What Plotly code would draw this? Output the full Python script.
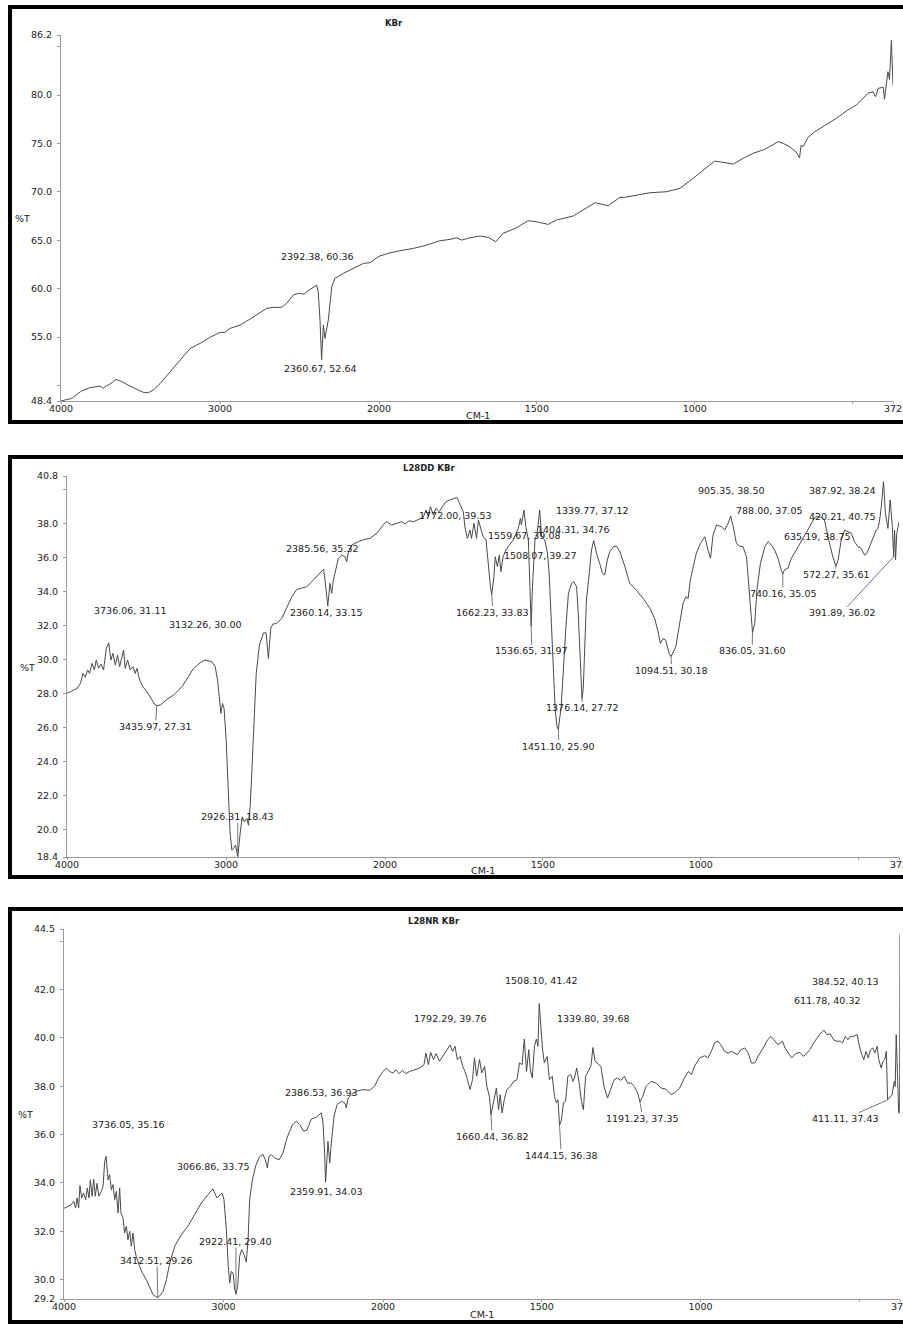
import plotly.graph_objects as go

# ---------------- data ----------------
KBR = [(4000, 48.4), (3933, 48.67), (3870, 49.45), (3818, 49.77), (3755, 49.94), (3734, 49.7), (3717, 49.94),
       (3692, 50.15), (3654, 50.63), (3618, 50.4), (3566, 49.94), (3524, 49.6), (3482, 49.29), (3451, 49.25),
       (3419, 49.53), (3377, 50.2), (3314, 51.4), (3252, 52.6), (3189, 53.8), (3126, 54.35), (3063, 54.97),
       (3000, 55.49), (2969, 55.49), (2937, 55.9), (2874, 56.24), (2811, 56.86), (2759, 57.45), (2706, 57.97),
       (2665, 58.07), (2612, 58.07), (2581, 58.48), (2539, 59.34), (2508, 59.52), (2472, 59.44), (2434, 59.92),
       (2392, 60.36), (2382, 59.68), (2371, 56.76), (2361, 52.64), (2350, 56.24), (2340, 54.87), (2319, 56.76),
       (2297, 60.2), (2277, 61.07), (2224, 61.58), (2161, 62.1), (2098, 62.61), (2057, 62.68), (2004, 63.3),
       (2000, 63.35), (1971, 63.65), (1934, 63.92), (1891, 64.16), (1849, 64.5), (1807, 64.95), (1775, 65.09),
       (1754, 65.26), (1738, 65.02), (1712, 65.26), (1680, 65.44), (1654, 65.3), (1630, 64.85), (1607, 65.71),
       (1564, 66.3), (1528, 67.02), (1501, 66.91), (1464, 66.64), (1438, 67.09), (1385, 67.5), (1354, 68.12),
       (1316, 68.88), (1274, 68.57), (1237, 69.43), (1222, 69.43), (1185, 69.67), (1142, 69.91), (1090, 70.01),
       (1047, 70.36), (1005, 71.4), (974, 72.25), (937, 73.18), (910, 73.05), (878, 72.87), (847, 73.46),
       (815, 73.98), (778, 74.39), (736, 75.18), (720, 75.01), (699, 74.66), (678, 74.08), (668, 73.53),
       (663, 74.84), (657, 74.66), (641, 75.63), (620, 76.21), (594, 76.73), (551, 77.6), (515, 78.45),
       (488, 78.97), (451, 80.18), (435, 80.34), (427, 79.83), (419, 80.69), (403, 80.8), (399, 79.56),
       (388, 82.41), (383, 81.62), (377, 85.68), (372, 81.0)]

L28DD = [(4000, 28.02), (3969, 28.17), (3937, 28.31), (3916, 28.6), (3899, 29.19), (3885, 28.96), (3870, 29.4),
         (3858, 29.2), (3843, 29.78), (3828, 29.4), (3816, 29.98), (3801, 29.49), (3786, 29.74), (3770, 29.4),
         (3753, 30.66), (3738, 31.0), (3724, 29.98), (3711, 30.37), (3696, 29.68), (3682, 30.27), (3669, 29.59),
         (3654, 30.17), (3644, 30.57), (3634, 29.49), (3619, 29.98), (3602, 29.4), (3585, 29.59), (3571, 29.19),
         (3560, 29.49), (3543, 28.8), (3523, 28.41), (3497, 28.11), (3466, 27.62), (3445, 27.33), (3436, 27.31),
         (3414, 27.33), (3372, 27.66), (3330, 27.92), (3277, 28.41), (3246, 28.9), (3204, 29.49), (3162, 29.82),
         (3131, 29.98), (3089, 29.88), (3068, 29.59), (3053, 28.8), (3041, 27.43), (3032, 26.84), (3022, 27.43),
         (3012, 27.13), (2999, 25.27), (2984, 22.33), (2974, 19.78), (2963, 18.8), (2953, 18.9), (2940, 19.1),
         (2932, 18.8), (2926, 18.43), (2911, 19.78), (2898, 20.76), (2884, 20.47), (2869, 20.66), (2859, 20.27),
         (2848, 21.35), (2838, 23.31), (2827, 26.05), (2810, 29.19), (2790, 30.86), (2764, 31.58), (2748, 31.58),
         (2733, 30.07), (2727, 30.86), (2718, 31.84), (2706, 32.09), (2681, 32.13), (2649, 32.43), (2618, 33.11),
         (2586, 33.7), (2555, 34.13), (2524, 34.23), (2492, 34.29), (2461, 34.58), (2429, 34.88), (2398, 35.17),
         (2386, 35.32), (2377, 34.68), (2366, 33.7), (2360, 33.15), (2346, 34.49), (2335, 33.9), (2325, 34.68),
         (2308, 35.47), (2293, 35.96), (2272, 36.15), (2251, 36.05), (2241, 35.76), (2230, 36.35), (2209, 36.74),
         (2168, 36.94), (2126, 37.08), (2094, 37.13), (2052, 37.43), (2021, 37.78), (2000, 38.05), (1995, 38.11),
         (1979, 37.92), (1963, 38.02), (1947, 38.11), (1937, 37.98), (1923, 38.17), (1910, 38.11), (1895, 38.25),
         (1879, 38.37), (1870, 38.8), (1863, 38.41), (1856, 39.0), (1847, 38.51), (1839, 38.9), (1828, 38.7),
         (1818, 39.0), (1807, 39.29), (1794, 39.4), (1772, 39.53), (1752, 38.7), (1747, 37.82), (1739, 37.13),
         (1731, 37.62), (1726, 37.13), (1718, 38.02), (1710, 37.13), (1704, 38.21), (1694, 37.53), (1689, 37.23),
         (1680, 37.04), (1673, 35.47), (1666, 34.29), (1662, 33.83), (1655, 34.88), (1651, 36.05), (1644, 35.47),
         (1638, 36.15), (1633, 35.17), (1626, 36.05), (1617, 36.45), (1610, 36.64), (1594, 37.04), (1578, 37.72),
         (1571, 38.31), (1568, 37.92), (1560, 38.8), (1554, 37.82), (1546, 37.04), (1541, 34.29), (1537, 31.97),
         (1533, 34.29), (1525, 37.04), (1518, 37.43), (1510, 38.8), (1504, 37.23), (1494, 37.04), (1486, 36.35),
         (1480, 35.07), (1473, 32.13), (1467, 29.19), (1461, 27.04), (1455, 26.05), (1451, 25.9), (1442, 27.23),
         (1436, 29.19), (1427, 31.94), (1419, 33.9), (1409, 34.49), (1402, 34.58), (1393, 34.29), (1388, 32.72),
         (1383, 30.17), (1378, 27.9), (1376, 27.72), (1372, 28.3), (1367, 30.76), (1362, 33.51), (1353, 35.07),
         (1346, 36.45), (1339, 37.0), (1330, 36.25), (1320, 35.66), (1311, 35.07), (1304, 34.98), (1296, 35.86),
         (1288, 36.35), (1277, 36.64), (1267, 36.68), (1256, 36.35), (1240, 35.47), (1225, 34.49), (1204, 34.09),
         (1182, 33.6), (1161, 33.02), (1146, 32.43), (1135, 31.64), (1128, 30.96), (1119, 31.25), (1111, 31.15),
         (1100, 30.37), (1094, 30.18), (1079, 30.76), (1066, 32.23), (1056, 33.31), (1047, 33.7), (1040, 33.6),
         (1033, 34.68), (1024, 35.47), (1014, 36.25), (1001, 36.84), (987, 37.23), (977, 36.45), (969, 35.96),
         (961, 37.33), (950, 37.92), (935, 37.82), (924, 37.62), (913, 38.02), (905, 38.45), (896, 37.72),
         (887, 36.84), (877, 36.68), (866, 36.64), (855, 36.05), (845, 33.51), (840, 32.13), (836, 31.6),
         (829, 32.13), (822, 34.09), (811, 35.66), (797, 36.64), (787, 36.94), (776, 36.74), (766, 36.45),
         (755, 35.96), (745, 35.27), (740, 35.05), (734, 35.3), (724, 35.37), (713, 35.96), (697, 36.45),
         (676, 37.13), (655, 37.82), (644, 38.21), (634, 38.41), (618, 38.37), (608, 38.21), (597, 37.23),
         (583, 36.15), (572, 35.5), (565, 35.86), (555, 37.04), (544, 37.62), (534, 37.53), (523, 37.43),
         (513, 36.94), (502, 36.64), (492, 36.55), (481, 36.15), (474, 36.25), (465, 36.64), (457, 37.04),
         (449, 37.33), (444, 37.62), (439, 37.72), (434, 38.11), (428, 39.0), (421, 40.47), (415, 38.6),
         (407, 37.72), (400, 39.39), (393, 37.82), (389, 36.05), (386, 37.62), (383, 35.86), (379, 37.43),
         (372, 38.1)]

L28NR = [(4000, 32.95), (3975, 33.03), (3954, 33.1), (3939, 33.24), (3927, 32.96), (3918, 33.38), (3908, 32.96),
         (3900, 33.89), (3889, 33.38), (3877, 33.58), (3864, 33.31), (3854, 33.79), (3843, 33.38), (3835, 34.13),
         (3824, 33.45), (3814, 34.16), (3804, 33.45), (3793, 33.98), (3781, 33.45), (3766, 33.65), (3755, 33.86),
         (3745, 34.89), (3736, 35.1), (3724, 34.13), (3714, 34.34), (3703, 33.72), (3693, 33.93), (3682, 33.31),
         (3672, 33.65), (3661, 32.76), (3651, 33.79), (3643, 32.76), (3630, 32.55), (3620, 31.93), (3609, 32.21),
         (3599, 31.65), (3588, 32.0), (3578, 31.38), (3567, 31.93), (3557, 31.24), (3547, 30.96), (3526, 30.55),
         (3509, 30.28), (3484, 30.0), (3463, 29.66), (3442, 29.38), (3425, 29.3), (3412, 29.26), (3404, 29.3),
         (3379, 29.52), (3358, 30.0), (3337, 30.69), (3306, 31.38), (3264, 31.86), (3223, 32.21), (3181, 32.69),
         (3139, 33.17), (3097, 33.51), (3067, 33.75), (3041, 33.38), (3024, 33.51), (3009, 33.58), (2997, 33.31),
         (2982, 32.07), (2970, 30.55), (2961, 29.86), (2951, 30.34), (2940, 30.28), (2930, 29.59), (2922, 29.4),
         (2911, 29.72), (2899, 30.96), (2886, 31.24), (2871, 31.03), (2857, 30.72), (2846, 31.65), (2836, 33.31),
         (2819, 34.13), (2798, 34.71), (2773, 35.1), (2752, 35.17), (2738, 34.96), (2725, 34.62), (2715, 35.1),
         (2700, 35.17), (2679, 35.03), (2652, 34.96), (2627, 35.24), (2602, 35.86), (2568, 36.41), (2543, 36.55),
         (2522, 36.41), (2497, 36.13), (2476, 36.2), (2449, 36.64), (2418, 36.72), (2387, 36.9), (2376, 36.48),
         (2366, 35.24), (2360, 34.03), (2345, 35.72), (2334, 34.82), (2324, 35.65), (2307, 36.75), (2288, 37.24),
         (2261, 37.37), (2240, 37.31), (2230, 37.1), (2219, 37.51), (2198, 37.65), (2167, 37.79), (2126, 37.86),
         (2084, 37.83), (2053, 38.0), (2022, 38.41), (2000, 38.61), (1989, 38.75), (1979, 38.61), (1968, 38.54),
         (1960, 38.68), (1949, 38.52), (1939, 38.66), (1928, 38.52), (1916, 38.61), (1900, 38.68), (1884, 38.75),
         (1871, 38.89), (1865, 39.37), (1857, 38.89), (1850, 39.4), (1841, 39.1), (1833, 39.35), (1822, 39.03),
         (1812, 39.23), (1799, 39.51), (1789, 39.7), (1781, 39.44), (1773, 39.65), (1766, 39.1), (1757, 39.23),
         (1749, 38.82), (1742, 38.61), (1734, 38.27), (1726, 37.86), (1718, 38.27), (1712, 39.17), (1705, 38.41),
         (1696, 39.1), (1689, 38.55), (1680, 38.82), (1673, 37.99), (1665, 37.58), (1660, 36.82), (1650, 37.44),
         (1643, 37.92), (1636, 37.03), (1631, 37.65), (1625, 36.89), (1618, 37.44), (1610, 37.86), (1599, 37.99),
         (1589, 38.2), (1578, 38.27), (1570, 38.96), (1562, 38.89), (1555, 39.95), (1548, 38.61), (1541, 39.51),
         (1536, 38.68), (1530, 38.34), (1523, 39.65), (1517, 39.95), (1512, 39.65), (1508, 41.42), (1498, 39.58),
         (1492, 38.96), (1483, 39.23), (1476, 38.27), (1467, 38.41), (1460, 37.58), (1454, 37.31), (1449, 37.44),
         (1444, 36.38), (1438, 36.6), (1432, 37.31), (1425, 37.37), (1418, 38.41), (1409, 38.48), (1402, 38.2),
         (1397, 38.34), (1390, 38.75), (1383, 38.2), (1375, 37.37), (1369, 37.03), (1362, 38.41), (1354, 38.61),
         (1345, 38.85), (1339, 39.6), (1332, 39.03), (1314, 38.82), (1304, 37.99), (1293, 37.51), (1283, 37.86),
         (1272, 38.27), (1262, 38.34), (1251, 38.24), (1240, 38.41), (1230, 38.13), (1219, 38.13), (1209, 37.99),
         (1198, 37.72), (1191, 37.35), (1182, 37.58), (1172, 37.99), (1156, 38.2), (1140, 38.13), (1124, 37.92),
         (1109, 37.88), (1093, 37.65), (1082, 37.72), (1066, 37.92), (1051, 38.34), (1038, 38.61), (1029, 38.48),
         (1019, 38.82), (1003, 39.17), (987, 39.26), (977, 39.17), (966, 39.44), (956, 39.79), (945, 39.86),
         (937, 39.72), (924, 39.44), (913, 39.37), (903, 39.44), (894, 39.37), (884, 39.3), (873, 39.51),
         (861, 39.58), (850, 39.37), (840, 38.96), (829, 38.96), (819, 39.23), (803, 39.58), (789, 39.92),
         (778, 40.06), (768, 39.92), (757, 39.72), (750, 39.77), (742, 39.86), (734, 39.58), (721, 39.3),
         (713, 39.17), (700, 39.35), (687, 39.4), (676, 39.23), (666, 39.37), (655, 39.51), (644, 39.79),
         (634, 39.99), (623, 40.17), (612, 40.32), (602, 40.13), (592, 40.17), (581, 39.92), (571, 39.86),
         (560, 39.86), (553, 39.79), (544, 40.06), (536, 39.92), (528, 40.06), (518, 40.06), (507, 40.13),
         (502, 39.79), (494, 39.37), (486, 39.1), (479, 39.44), (472, 39.17), (465, 39.51), (458, 39.58),
         (451, 39.37), (444, 39.65), (439, 39.1), (431, 38.75), (426, 39.03), (420, 39.1), (415, 39.44),
         (411, 37.43), (397, 37.65), (390, 38.2), (387, 37.99), (384, 40.13), (376, 36.9), (373, 36.9),
         (372, 44.3)]

# peak labels: (text, peak wavenumber, peak %T, label wavenumber, label %T, leader line)
KBR_PEAKS = [("2392.38, 60.36", 2392, 60.36, 2388, 63.37, False),
             ("2360.67, 52.64", 2361, 52.64, 2367, 51.73, False)]

L28DD_PEAKS = [("3736.06, 31.11", 3736, 31.11, 3602, 32.92, False),
               ("3132.26, 30.00", 3132, 30.00, 3129, 32.07, False),
               ("3435.97, 27.31", 3436, 27.31, 3443, 26.09, True),
               ("2926.31, 18.43", 2926, 18.43, 2926, 20.76, True),
               ("2385.56, 35.32", 2386, 35.32, 2390, 36.55, False),
               ("2360.14, 33.15", 2360, 33.15, 2369, 32.80, False),
               ("1772.00, 39.53", 1772, 39.53, 1777, 38.45, False),
               ("1559.67, 39.08", 1560, 39.08, 1559, 37.29, False),
               ("1508.07, 39.27", 1508, 39.27, 1507, 36.15, False),
               ("1404.31, 34.76", 1404, 34.76, 1404, 37.66, False),
               ("1339.77, 37.12", 1340, 37.12, 1342, 38.80, False),
               ("1662.23, 33.83", 1662, 33.83, 1658, 32.80, True),
               ("1536.65, 31.97", 1537, 31.97, 1535, 30.53, True),
               ("1376.14, 27.72", 1376, 27.72, 1375, 27.17, True),
               ("1451.10, 25.90", 1451, 25.90, 1449, 24.92, True),
               ("1094.51, 30.18", 1094, 30.18, 1092, 29.39, True),
               ("905.35, 38.50", 905, 38.50, 905, 39.94, False),
               ("788.00, 37.05", 788, 37.05, 785, 38.80, False),
               ("836.05, 31.60", 836, 31.60, 837, 30.53, True),
               ("740.16, 35.05", 740, 35.05, 740, 33.90, True),
               ("387.92, 38.24", 388, 38.24, 554, 39.92, False),
               ("420.21, 40.75", 420, 40.75, 554, 38.41, False),
               ("635.19, 38.75", 635, 38.75, 633, 37.27, False),
               ("572.27, 35.61", 572, 35.50, 573, 35.00, True),
               ("391.89, 36.02", 389, 36.05, 554, 32.76, True)]

L28NR_PEAKS = [("3736.05, 35.16", 3736, 35.16, 3595, 36.41, False),
               ("3066.86, 33.75", 3067, 33.75, 3062, 34.69, False),
               ("3412.51, 29.26", 3412, 29.26, 3417, 30.80, True),
               ("2922.41, 29.40", 2922, 29.40, 2922, 31.58, True),
               ("2386.53, 36.93", 2387, 36.93, 2385, 37.75, False),
               ("2359.91, 34.03", 2360, 34.03, 2353, 33.64, False),
               ("1792.29, 39.76", 1792, 39.76, 1787, 40.81, False),
               ("1508.10, 41.42", 1508, 41.42, 1501, 42.36, False),
               ("1339.80, 39.68", 1340, 39.68, 1336, 40.81, False),
               ("1660.44, 36.82", 1660, 36.82, 1656, 35.93, True),
               ("1444.15, 36.38", 1444, 36.38, 1439, 35.15, True),
               ("1191.23, 37.35", 1191, 37.35, 1182, 36.68, True),
               ("384.52, 40.13", 385, 40.13, 545, 42.31, False),
               ("611.78, 40.32", 612, 40.32, 601, 41.54, False),
               ("411.11, 37.43", 411, 37.43, 545, 36.66, True)]

X_TICKS_HIGH = [4000, 3000, 2000]
X_TICKS_LOW = [1500, 1000, 500, 372]
X_TICKTEXT_LOW = ["1500", "1000", "", "372"]

KBR_YTICKS = [86.2, 85.0, 80.0, 75.0, 70.0, 65.0, 60.0, 55.0, 50.0, 48.4]
KBR_YTEXT = ["86.2", "", "80.0", "75.0", "70.0", "65.0", "60.0", "55.0", "", "48.4"]
L28DD_YTICKS = [40.8, 40.0, 38.0, 36.0, 34.0, 32.0, 30.0, 28.0, 26.0, 24.0, 22.0, 20.0, 18.4]
L28DD_YTEXT = ["40.8", "", "38.0", "36.0", "34.0", "32.0", "30.0", "28.0", "26.0", "24.0", "22.0", "20.0", "18.4"]
L28NR_YTICKS = [44.5, 44.0, 42.0, 40.0, 38.0, 36.0, 34.0, 32.0, 30.0, 29.2]
L28NR_YTEXT = ["44.5", "", "42.0", "40.0", "38.0", "36.0", "34.0", "32.0", "30.0", "29.2"]

# ---------------- layout geometry (pixels of the 903x1324 page) ----------------
W, H = 903, 1324
FONT = "DejaVu Sans"
TXT = "#222222"
AXC = "#9a9a9a"
LINEC = "#4a4a4a"
FS = 9.5


def fx(px):
    return px / W


def fy(py):
    return 1 - py / H


panels = [
    dict(title="KBr", data=KBR, peaks=KBR_PEAKS, yr=[48.4, 86.2], yt=KBR_YTICKS, ytt=KBR_YTEXT,
         x0=61, xb=379, x1=893, top=35, bot=401, title_pos=(394, 23), ylab=(22, 218), xlab=(478, 415),
         box=(7, 422)),
    dict(title="L28DD KBr", data=L28DD, peaks=L28DD_PEAKS, yr=[18.4, 40.8], yt=L28DD_YTICKS, ytt=L28DD_YTEXT,
         x0=67, xb=385, x1=899, top=476, bot=857, title_pos=(429, 468), ylab=(27, 667), xlab=(483, 870),
         box=(457, 877)),
    dict(title="L28NR KBr", data=L28NR, peaks=L28NR_PEAKS, yr=[29.2, 44.5], yt=L28NR_YTICKS, ytt=L28NR_YTEXT,
         x0=64, xb=383, x1=900, top=929, bot=1299, title_pos=(434, 921), ylab=(25, 1114), xlab=(482, 1314),
         box=(909, 1322)),
]

fig = go.Figure()
layout = dict(width=W, height=H, margin=dict(l=0, r=0, t=0, b=0, autoexpand=False), showlegend=False,
              paper_bgcolor="white", plot_bgcolor="white", font=dict(family=FONT, size=FS, color=TXT))
annotations = []
shapes = []


def axname(n):
    return "x" if n == 1 else f"x{n}"


for i, p in enumerate(panels):
    nl, nr = 2 * i + 1, 2 * i + 2
    xl, xr = axname(nl), axname(nr)
    ya = "y" if i == 0 else f"y{i + 1}"
    wn = [d[0] for d in p["data"]]
    tt = [d[1] for d in p["data"]]
    hi = [(a, b) for a, b in zip(wn, tt) if a >= 2000]
    lo = [(a, b) for a, b in zip(wn, tt) if a <= 2000]
    fig.add_trace(go.Scatter(x=[a for a, _ in hi], y=[b for _, b in hi], xaxis=xl, yaxis=ya, mode="lines",
                             line=dict(color=LINEC, width=1), hoverinfo="skip"))
    fig.add_trace(go.Scatter(x=[a for a, _ in lo], y=[b for _, b in lo], xaxis=xr, yaxis=ya, mode="lines",
                             line=dict(color=LINEC, width=1), hoverinfo="skip"))
    common = dict(showline=True, linecolor=AXC, linewidth=1, ticks="outside", tickcolor=AXC,
                  showgrid=False, zeroline=False, automargin=False, ticklabeloverflow="allow",
                  tickfont=dict(family=FONT, size=FS, color=TXT), fixedrange=True)
    layout["xaxis" if nl == 1 else f"xaxis{nl}"] = dict(
        domain=[fx(p["x0"]), fx(p["xb"])], range=[4000, 2000], anchor=ya, ticklen=2, ticklabelstandoff=-3,
        tickmode="array", tickvals=X_TICKS_HIGH, ticktext=[str(v) for v in X_TICKS_HIGH], **common)
    layout[f"xaxis{nr}"] = dict(
        domain=[fx(p["xb"]), fx(p["x1"])], range=[2000, 372], anchor=ya, ticklen=2, ticklabelstandoff=-3,
        tickmode="array", tickvals=X_TICKS_LOW, ticktext=X_TICKTEXT_LOW, **common)
    layout["yaxis" if i == 0 else f"yaxis{i + 1}"] = dict(
        domain=[fy(p["bot"]), fy(p["top"])], range=p["yr"], anchor=xl, ticklen=3, ticklabelstandoff=3,
        tickmode="array", tickvals=p["yt"], ticktext=p["ytt"], **common)

    # peak labels
    for text, pw, pt, lw, lt, leader in p["peaks"]:
        ax = xl if lw >= 2000 else xr
        if leader:
            annotations.append(dict(x=pw, y=pt, xref=ax, yref=ya, ax=lw, ay=lt, axref=ax, ayref=ya,
                                    text=text, showarrow=True, arrowhead=0, arrowwidth=0.8, arrowcolor="#555555",
                                    standoff=0, startstandoff=0, borderpad=0,
                                    font=dict(family=FONT, size=FS, color=TXT)))
        else:
            annotations.append(dict(x=lw, y=lt, xref=ax, yref=ya, text=text, showarrow=False,
                                    xanchor="center", yanchor="middle",
                                    font=dict(family=FONT, size=FS, color=TXT)))

    # titles and axis labels
    tx, ty = p["title_pos"]
    annotations.append(dict(x=fx(tx), y=fy(ty), xref="paper", yref="paper", text="<b>" + p["title"] + "</b>",
                            showarrow=False, xanchor="center", yanchor="middle",
                            font=dict(family=FONT, size=FS - 1, color=TXT)))
    lx, ly = p["ylab"]
    annotations.append(dict(x=fx(lx), y=fy(ly), xref="paper", yref="paper", text="%T",
                            showarrow=False, xanchor="center", yanchor="middle",
                            font=dict(family=FONT, size=FS, color=TXT)))
    cx, cy = p["xlab"]
    annotations.append(dict(x=fx(cx), y=fy(cy), xref="paper", yref="paper", text="CM-1",
                            showarrow=False, xanchor="center", yanchor="middle",
                            font=dict(family=FONT, size=FS, color=TXT)))
    # panel frame
    bt, bb = p["box"]
    shapes.append(dict(type="rect", xref="paper", yref="paper", x0=fx(10), x1=1.05,
                       y0=fy(bb), y1=fy(bt), line=dict(color="black", width=4), layer="above"))

layout["annotations"] = annotations
layout["shapes"] = shapes
fig.update_layout(**layout)
# the page body has a default 8px margin; remove it so the 903x1324 figure fills the window
fig.write_html("out.html", config={"displayModeBar": False},
               post_script="document.body.style.margin='0';document.body.style.overflow='hidden';")
